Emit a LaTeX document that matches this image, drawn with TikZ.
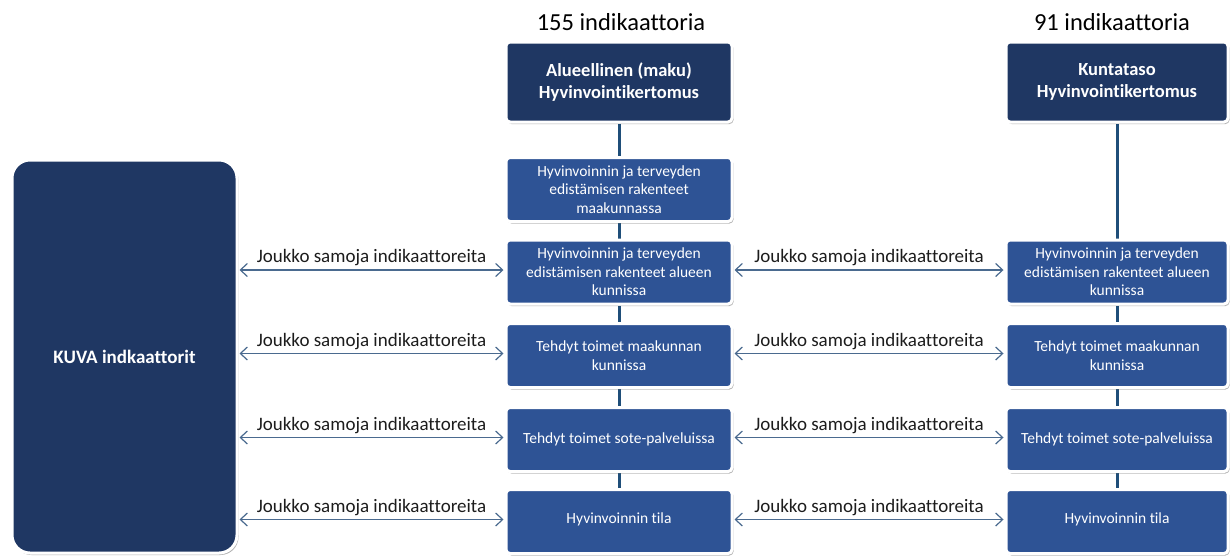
\documentclass[tikz,border=0pt]{standalone}
\usepackage{fontspec}
\setmainfont{Carlito}[Ligatures=CommonOff]
\usetikzlibrary{arrows.meta,shadows,backgrounds}

\definecolor{navy}{HTML}{1F3763}
\definecolor{midblue}{HTML}{2E5395}
\definecolor{linkblue}{HTML}{1F4E79}
\definecolor{arrowblue}{HTML}{4A6A8F}
\definecolor{labeltext}{HTML}{1C1C1C}

\tikzset{
  x=1pt, y=-1pt,
  boxbase/.style={rectangle, draw=white, line width=3pt, text=white, align=center,
    drop shadow={shadow xshift=1.5pt, shadow yshift=-2pt, opacity=0.3, fill=black}},
  headbox/.style={boxbase, rounded corners=4pt, fill=navy,
    font=\bfseries\fontsize{18.5}{22}\selectfont, minimum height=80pt},
  stepbox/.style={boxbase, rounded corners=4pt, fill=midblue,
    font=\fontsize{15.5}{18.5}\selectfont, minimum height=64pt},
  bigbox/.style={boxbase, rounded corners=18pt, fill=navy,
    font=\bfseries\fontsize{19}{22}\selectfont, minimum width=225pt, minimum height=393pt},
  count/.style={font=\fontsize{24.5}{28}\selectfont, text=black},
  link/.style={draw=linkblue, line width=3pt},
  biarrow/.style={draw=arrowblue, line width=1.2pt,
    {Straight Barb[length=7pt,width=13pt]}-{Straight Barb[length=7pt,width=13pt]}},
  sharelabel/.style={font=\fontsize{19}{22}\selectfont, text=labeltext, above=0pt, midway}
}

\begin{document}
\begin{tikzpicture}
\useasboundingbox (0,0) rectangle (1231,555);

% column headers
\node[count] (c1) at (621,22) {155 indikaattoria};
\node[count] (c2) at (1112,22) {91 indikaattoria};

% regional column
\node[headbox, minimum width=226pt] (tm) at (619,82) {Alueellinen (maku)\\Hyvinvointikertomus};
\node[stepbox, minimum width=226pt] (s1) at (619,189.5) {Hyvinvoinnin ja terveyden\\edistämisen rakenteet\\maakunnassa};
\node[stepbox, minimum width=226pt] (s2) at (619,272) {Hyvinvoinnin ja terveyden\\edistämisen rakenteet alueen\\kunnissa};
\node[stepbox, minimum width=226pt] (s3) at (619,355.5) {Tehdyt toimet maakunnan\\kunnissa};
\node[stepbox, minimum width=226pt] (s4) at (619,439.5) {Tehdyt toimet sote-palveluissa};
\node[stepbox, minimum width=226pt] (s5) at (619,521.5) {\raisebox{6pt}{Hyvinvoinnin tila}};

% municipal column
\node[headbox, minimum width=222pt] (tr) at (1117,82) {Kuntataso\\Hyvinvointikertomus};
\node[stepbox, minimum width=222pt] (r2) at (1117,272) {Hyvinvoinnin ja terveyden\\edistämisen rakenteet alueen\\kunnissa};
\node[stepbox, minimum width=222pt] (r3) at (1117,355.5) {Tehdyt toimet maakunnan\\kunnissa};
\node[stepbox, minimum width=222pt] (r4) at (1117,439.5) {Tehdyt toimet sote-palveluissa};
\node[stepbox, minimum width=222pt] (r5) at (1117,521.5) {\raisebox{6pt}{Hyvinvoinnin tila}};

% KUVA block
\node[bigbox] (kuva) at (124.5,356.5) {KUVA indkaattorit};

% vertical links behind the boxes
\begin{scope}[on background layer]
  \draw[link] (tm.south) -- (s1.north);
  \draw[link] (s1.south) -- (s2.north);
  \draw[link] (s2.south) -- (s3.north);
  \draw[link] (s3.south) -- (s4.north);
  \draw[link] (s4.south) -- (s5.north);
  \draw[link] (tr.south) -- (r2.north);
  \draw[link] (r2.south) -- (r3.north);
  \draw[link] (r3.south) -- (r4.north);
  \draw[link] (r4.south) -- (r5.north);
\end{scope}

% shared indicator arrows
\foreach \m/\r in {s2/r2, s3/r3, s4/r4, s5/r5} {
  \draw[biarrow] ([xshift=1pt,yshift=2pt]kuva.east |- \m.west) -- ([xshift=-1pt,yshift=2pt]\m.west)
    node[sharelabel] {Joukko samoja indikaattoreita};
  \draw[biarrow] ([xshift=1pt,yshift=2pt]\m.east) -- ([xshift=-1pt,yshift=2pt]\r.west)
    node[sharelabel] {Joukko samoja indikaattoreita};
}
\end{tikzpicture}
\end{document}
